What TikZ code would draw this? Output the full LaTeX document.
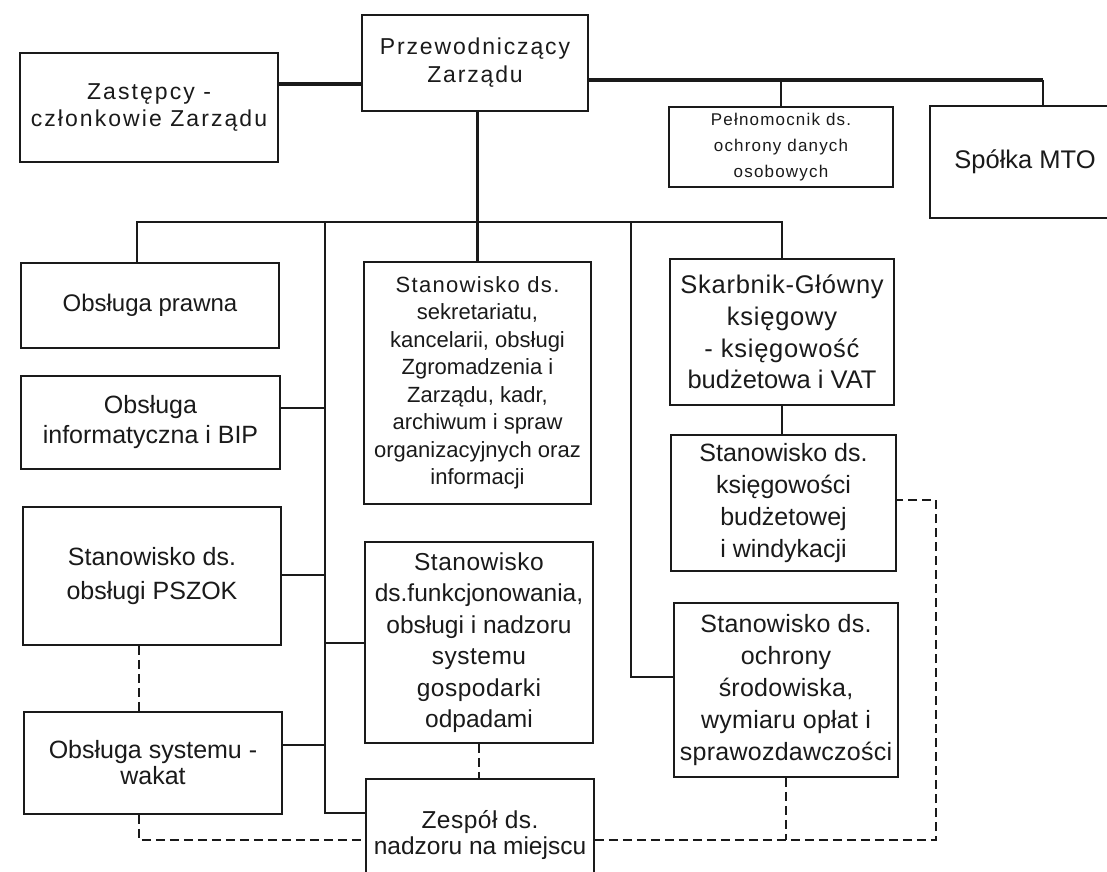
\documentclass[tikz,border=0pt]{standalone}
\usepackage{fontspec}
\setmainfont{Liberation Sans}
\newcommand{\lsp}[2]{{\addfontfeatures{LetterSpace=#1}#2}}
\newcommand{\fsz}[2]{\fontsize{#1}{#2}\selectfont}
\definecolor{ink}{HTML}{1A1A1A}
\begin{document}
\begin{tikzpicture}[x=1pt,y=-1pt,
  box/.style={draw=ink,line width=1.8pt,inner sep=0pt,align=center,text=ink,fill=white},
  conn/.style={draw=ink,line width=2.2pt},
  thickconn/.style={draw=ink,line width=3.8pt},
  dconn/.style={draw=ink,line width=2.8pt,dash pattern=on 9pt off 5pt}]
\useasboundingbox (0,0) rectangle (1107,871);
\clip (0,0) rectangle (1107,871);
\fill[white] (0,0) rectangle (1107,871);
% helper coordinates
\coordinate (hZ) at (0,84);
\coordinate (tb) at (1043,80);
\coordinate (bus) at (0,222);
\coordinate (vL) at (325,0);
\coordinate (vR) at (631,0);
\coordinate (dP) at (137,0);
\coordinate (dS) at (139,0);
\coordinate (hInfo) at (0,408);
\coordinate (hPs) at (0,575);
\coordinate (hFk) at (0,643);
\coordinate (hSy) at (0,745);
\coordinate (hZe) at (0,813);
\coordinate (hOc) at (0,677);
\coordinate (hKs) at (0,500);
\coordinate (dX) at (936,0);
\coordinate (dY) at (0,840);
% boxes
\node[box,minimum width=226pt,minimum height=96pt,font=\fsz{23}{28}] (przew) at (475,63) {\lsp{8}{Przewodniczący}\\\lsp{8}{Zarządu}};
\node[box,minimum width=258pt,minimum height=109pt,font=\fsz{23}{27}] (zast) at (149,107.5) {\lsp{9}{Zastępcy -}\\\lsp{9}{członkowie Zarządu}};
\node[box,minimum width=224pt,minimum height=80pt,font=\fsz{17}{26}] (peln) at (781,147) {\lsp{7}{Pełnomocnik ds.}\\\lsp{7}{ochrony danych}\\\lsp{7}{osobowych}};
\node[box,minimum width=190pt,minimum height=112pt,font=\fsz{25.5}{30}] (spolka) at (1025,162) {Spółka MTO};
\node[box,minimum width=258pt,minimum height=85pt,font=\fsz{24}{30}] (prawna) at (150,305.5) {Obsługa prawna};
\node[box,minimum width=259pt,minimum height=93pt,font=\fsz{25}{30}] (info) at (150.5,422.5) {Obsługa\\informatyczna i BIP};
\node[box,minimum width=258pt,minimum height=138pt,font=\fsz{25}{34}] (pszok) at (152,576) {Stanowisko ds.\\obsługi PSZOK};
\node[box,minimum width=258pt,minimum height=102pt,font=\fsz{25}{26}] (sys) at (153,763) {Obsługa systemu -\\wakat};
\node[box,minimum width=227pt,minimum height=242pt,font=\fsz{22}{27.5}] (sekr) at (477.5,383) {\lsp{6}{Stanowisko ds.}\\sekretariatu,\\kancelarii, obsługi\\Zgromadzenia i\\Zarządu, kadr,\\archiwum i spraw\\organizacyjnych oraz\\informacji};
\node[box,minimum width=228pt,minimum height=201pt,font=\fsz{24.5}{31.5}] (funk) at (479,642.5) {\lsp{2}{Stanowisko}\\ds.funkcjonowania,\\obsługi i nadzoru\\\lsp{2}{systemu}\\\lsp{2}{gospodarki}\\odpadami};
\node[box,minimum width=228pt,minimum height=112pt,font=\fsz{24.5}{26}] (zesp) at (480,835) {\lsp{2}{Zespół ds.}\\nadzoru na miejscu};
\node[box,minimum width=224pt,minimum height=146pt,font=\fsz{25.5}{31.7}] (skarb) at (782,332) {\lsp{3}{Skarbnik-Główny}\\\lsp{3}{księgowy}\\\lsp{3}{- księgowość}\\budżetowa i VAT};
\node[box,minimum width=225pt,minimum height=136pt,font=\fsz{25}{32}] (ksieg) at (783.5,503) {Stanowisko ds.\\księgowości\\budżetowej\\i windykacji};
\node[box,minimum width=224pt,minimum height=174pt,font=\fsz{25}{32}] (ochr) at (786,690) {\lsp{1}{Stanowisko ds.}\\\lsp{1}{ochrony}\\\lsp{1}{środowiska,}\\\lsp{1}{wymiaru opłat i}\\\lsp{1}{sprawozdawczości}};
% solid connectors
\draw[thickconn] (zast.east |- hZ) -- (przew.west |- hZ);
\draw[thickconn] (przew.east |- tb) -- (tb);
\draw[conn] (tb) -- (tb |- spolka.north);
\draw[conn] (peln.north |- tb) -- (peln.north);
\draw[conn] (przew.south -| sekr.north) -- (sekr.north);
\draw[conn] (dP |- prawna.north) -- (dP |- bus) -- (skarb.north |- bus) -- (skarb.north);
\draw[conn] (vL |- bus) -- (vL |- hZe) -- (zesp.west |- hZe);
\draw[conn] (info.east |- hInfo) -- (vL |- hInfo);
\draw[conn] (pszok.east |- hPs) -- (vL |- hPs);
\draw[conn] (sys.east |- hSy) -- (vL |- hSy);
\draw[conn] (vL |- hFk) -- (funk.west |- hFk);
\draw[conn] (vR |- bus) -- (vR |- hOc) -- (ochr.west |- hOc);
\draw[conn] (skarb.south) -- (skarb.south |- ksieg.north);
% dashed connectors
\draw[dconn] (dS |- pszok.south) -- (dS |- sys.north);
\draw[dconn] (funk.south) -- (funk.south |- zesp.north);
\draw[dconn] (dS |- sys.south) -- (dS |- dY) -- (zesp.west |- dY);
\draw[dconn] (zesp.east |- dY) -- (dX |- dY) -- (dX |- hKs) -- (ksieg.east |- hKs);
\draw[dconn] (ochr.south) -- (ochr.south |- dY);
\end{tikzpicture}
\end{document}
